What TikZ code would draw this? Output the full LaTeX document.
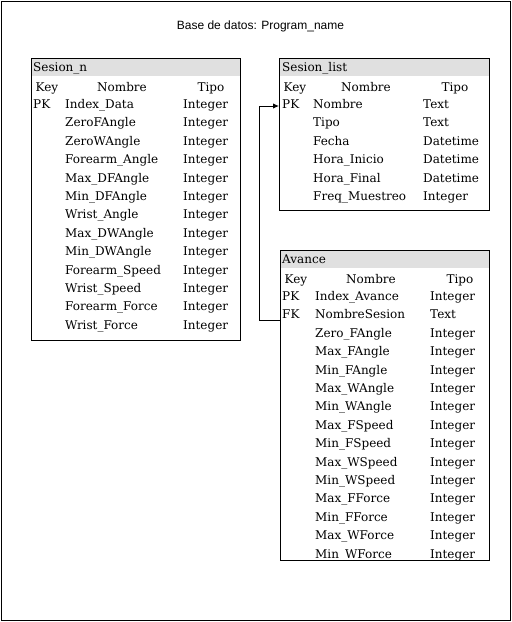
\documentclass[tikz,border=0pt]{standalone}
\usepackage{fontspec}
\setmainfont{DejaVu Serif}
\newfontfamily\titlefont{Liberation Sans}
\usepackage{tikz}
\usetikzlibrary{shapes,arrows,arrows.meta}
\usetikzlibrary{calc}

\definecolor{headgray}{HTML}{E0E0E0}

\tikzset{
	tbl/.style={draw, line width=1pt, anchor=north west, inner sep=0pt},
	tblhead/.style={fill=headgray, anchor=north west, inner sep=0pt, minimum height=18pt},
	cell/.style={anchor=base west, inner sep=0pt, font=\fontsize{12}{14}\selectfont},
	colhead/.style={anchor=base, inner sep=0pt, font=\fontsize{12}{14}\selectfont},
	link/.style={line width=1pt, -{Latex[length=6pt,width=5.5pt]}}
}

\begin{document}
\begin{tikzpicture}[x=1pt, y=-1pt]
	\useasboundingbox (0,0) rectangle (512,622);
	\draw[line width=1pt] (1,1) rectangle (510,620);
	
	\node[anchor=base, font=\titlefont\fontsize{12}{14}\selectfont] (title) at (260.5,29.5) {Base de datos: Program\_name};
	
	% Sesion_n
	\node[tblhead, minimum width=209pt] (snH) at (31,58) {};
	\node[tbl, minimum width=209pt, minimum height=282pt] (sn) at (31,58) {};
	\node[cell] (snName) at (33,71.5) {Sesion\_n};
	\node[colhead] (snCK) at (47,91.5) {Key};
	\node[colhead] (snCN) at (122,91.5) {Nombre};
	\node[colhead] (snCT) at (211,91.5) {Tipo};
	\node[cell] (snK1) at (33,108.5) {PK};
	\node[cell] (snN1) at (65,108.5) {Index\_Data};       \node[cell] (snT1) at (183,108.5) {Integer};
	\node[cell] (snN2) at (65,126.9) {ZeroFAngle};        \node[cell] (snT2) at (183,126.9) {Integer};
	\node[cell] (snN3) at (65,145.3) {ZeroWAngle};        \node[cell] (snT3) at (183,145.3) {Integer};
	\node[cell] (snN4) at (65,163.7) {Forearm\_Angle};    \node[cell] (snT4) at (183,163.7) {Integer};
	\node[cell] (snN5) at (65,182.1) {Max\_DFAngle};      \node[cell] (snT5) at (183,182.1) {Integer};
	\node[cell] (snN6) at (65,200.5) {Min\_DFAngle};      \node[cell] (snT6) at (183,200.5) {Integer};
	\node[cell] (snN7) at (65,218.9) {Wrist\_Angle};      \node[cell] (snT7) at (183,218.9) {Integer};
	\node[cell] (snN8) at (65,237.3) {Max\_DWAngle};      \node[cell] (snT8) at (183,237.3) {Integer};
	\node[cell] (snN9) at (65,255.7) {Min\_DWAngle};      \node[cell] (snT9) at (183,255.7) {Integer};
	\node[cell] (snN10) at (65,274.1) {Forearm\_Speed};   \node[cell] (snT10) at (183,274.1) {Integer};
	\node[cell] (snN11) at (65,292.5) {Wrist\_Speed};     \node[cell] (snT11) at (183,292.5) {Integer};
	\node[cell] (snN12) at (65,310.9) {Forearm\_Force};   \node[cell] (snT12) at (183,310.9) {Integer};
	\node[cell] (snN13) at (65,329.3) {Wrist\_Force};     \node[cell] (snT13) at (183,329.3) {Integer};
	
	% Sesion_list
	\node[tblhead, minimum width=210pt] (slH) at (279,58) {};
	\node[tbl, minimum width=210pt, minimum height=152pt] (sl) at (279,58) {};
	\node[cell] (slName) at (282,71.5) {Sesion\_list};
	\node[colhead] (slCK) at (295,91.5) {Key};
	\node[colhead] (slCN) at (366,91.5) {Nombre};
	\node[colhead] (slCT) at (455,91.5) {Tipo};
	\node[cell] (slK1) at (282,108.5) {PK};
	\node[cell] (slN1) at (313,108.5) {Nombre};           \node[cell] (slT1) at (423,108.5) {Text};
	\node[cell] (slN2) at (313,126.9) {Tipo};             \node[cell] (slT2) at (423,126.9) {Text};
	\node[cell] (slN3) at (313,145.3) {Fecha};            \node[cell] (slT3) at (423,145.3) {Datetime};
	\node[cell] (slN4) at (313,163.7) {Hora\_Inicio};     \node[cell] (slT4) at (423,163.7) {Datetime};
	\node[cell] (slN5) at (313,182.1) {Hora\_Final};      \node[cell] (slT5) at (423,182.1) {Datetime};
	\node[cell] (slN6) at (313,200.5) {Freq\_Muestreo};   \node[cell] (slT6) at (423,200.5) {Integer};
	
	% Avance
	\node[tblhead, minimum width=209pt] (avH) at (280,250) {};
	\begin{scope}
		\clip (280,250) rectangle (489,560);
		\node[cell] (avName) at (282,263.5) {Avance};
		\node[colhead] (avCK) at (296,283.5) {Key};
		\node[colhead] (avCN) at (371,283.5) {Nombre};
		\node[colhead] (avCT) at (460,283.5) {Tipo};
		\node[cell] (avK1) at (282,300.5) {PK};
		\node[cell] (avK2) at (282,318.9) {FK};
		\node[cell] (avN1) at (315,300.5) {Index\_Avance};    \node[cell] (avT1) at (430,300.5) {Integer};
		\node[cell] (avN2) at (315,318.9) {NombreSesion};     \node[cell] (avT2) at (430,318.9) {Text};
		\node[cell] (avN3) at (315,337.3) {Zero\_FAngle};     \node[cell] (avT3) at (430,337.3) {Integer};
		\node[cell] (avN4) at (315,355.7) {Max\_FAngle};      \node[cell] (avT4) at (430,355.7) {Integer};
		\node[cell] (avN5) at (315,374.1) {Min\_FAngle};      \node[cell] (avT5) at (430,374.1) {Integer};
		\node[cell] (avN6) at (315,392.5) {Max\_WAngle};      \node[cell] (avT6) at (430,392.5) {Integer};
		\node[cell] (avN7) at (315,410.9) {Min\_WAngle};      \node[cell] (avT7) at (430,410.9) {Integer};
		\node[cell] (avN8) at (315,429.3) {Max\_FSpeed};      \node[cell] (avT8) at (430,429.3) {Integer};
		\node[cell] (avN9) at (315,447.7) {Min\_FSpeed};      \node[cell] (avT9) at (430,447.7) {Integer};
		\node[cell] (avN10) at (315,466.1) {Max\_WSpeed};     \node[cell] (avT10) at (430,466.1) {Integer};
		\node[cell] (avN11) at (315,484.5) {Min\_WSpeed};     \node[cell] (avT11) at (430,484.5) {Integer};
		\node[cell] (avN12) at (315,502.9) {Max\_FForce};     \node[cell] (avT12) at (430,502.9) {Integer};
		\node[cell] (avN13) at (315,521.3) {Min\_FForce};     \node[cell] (avT13) at (430,521.3) {Integer};
		\node[cell] (avN14) at (315,539.7) {Max\_WForce};     \node[cell] (avT14) at (430,539.7) {Integer};
		\node[cell] (avN15) at (315,558.1) {Min\_WForce};     \node[cell] (avT15) at (430,558.1) {Integer};
	\end{scope}
	\node[tbl, minimum width=209pt, minimum height=310pt] (av) at (280,250) {};
	
	\draw[link] ([yshift=-2pt]avK2.base -| av.west) -- ++(-21,0) |- ([yshift=2.5pt]slK1.base -| sl.west);
\end{tikzpicture}
\end{document}
